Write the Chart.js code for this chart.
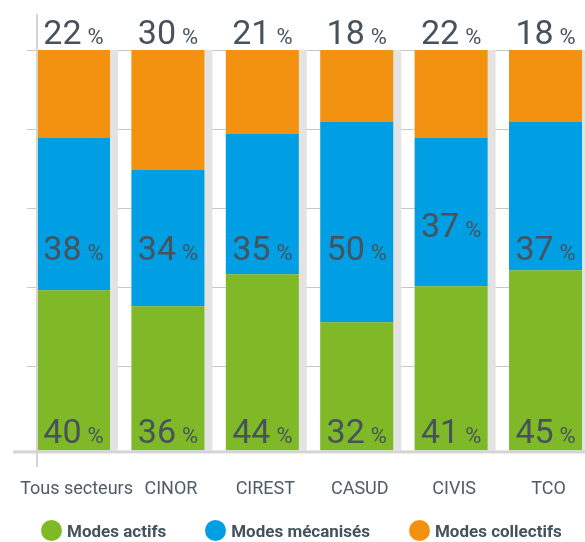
<!DOCTYPE html>
<html>
<head>
<meta charset="utf-8">
<script src="https://cdn.jsdelivr.net/npm/chart.js@4/dist/chart.umd.min.js"></script>
<style>
  html, body { margin: 0; padding: 0; background: #fff; overflow: hidden; }
  #wrap { width: 585px; height: 542px; position: relative; }
  #legend { position: absolute; left: 41px; top: 520px; display: flex; align-items: center;
            font: bold 17px Roboto, sans-serif; color: #44525c; white-space: nowrap; }
  #legend .item { display: flex; align-items: center; margin-right: 39px; }
  #legend .dot { width: 21px; height: 21px; border-radius: 50%; margin-right: 5px; }
</style>
</head>
<body>
<div id="wrap">
  <canvas id="chart" width="585" height="542"></canvas>
  <div id="legend"></div>
</div>
<script>
// parts modales par secteur (%)
const SECTEURS = ["Tous secteurs", "CINOR", "CIREST", "CASUD", "CIVIS", "TCO"];
const ACTIFS = [40, 36, 44, 32, 41, 45];
const MECANISES = [38, 34, 35, 50, 37, 37];
const COLLECTIFS = [22, 30, 21, 18, 22, 18];
const SERIES = ["Modes actifs", "Modes mécanisés", "Modes collectifs"];
const GRID_TICKS = [21, 40.75, 60.5, 80.25, 100];

const COLORS = ["#80b928", "#009fe3", "#f39210"];
const TXT = "#46535d";

const toPoints = (arr) => arr.map((v, i) => ({ x: i, y: v }));

// gray strips, axis lines and value labels
const decor = {
  id: "decor",
  beforeDatasetsDraw(chart, args, o) {
    const { ctx, scales: { y } } = chart;
    const top = y.getPixelForValue(100), bot = y.getPixelForValue(0);
    ctx.save();
    ctx.fillStyle = o.stripColor;
    for (const bar of chart.getDatasetMeta(0).data) {
      const { x, width } = bar.getProps(["x", "width"], true);
      ctx.fillRect(x - width / 2, top, width + o.stripWidth, bot - top);
    }
    ctx.restore();
  },
  afterDraw(chart, args, o) {
    const { ctx, chartArea: a, scales: { y } } = chart;
    ctx.save();
    // axes
    ctx.fillStyle = o.axisColor;
    ctx.fillRect(a.left - 1, o.axisTop, 2, o.axisBottom - o.axisTop);
    ctx.fillRect(o.baseLeft, a.bottom, chart.width - o.baseLeft, 3);
    // labels
    ctx.fillStyle = TXT;
    ctx.textBaseline = "alphabetic";
    ctx.textAlign = "left";
    chart.data.datasets.forEach((ds, di) => {
      chart.getDatasetMeta(di).data.forEach((bar, i) => {
        let base;
        if (di === 0) base = y.getPixelForValue(0) - 7;
        else if (di === 2) base = y.getPixelForValue(100) - 6;
        else base = y.getPixelForValue(o.midValue) + o.midShift[i];
        const n = String(ds.data[i].y);
        ctx.font = o.numFont;
        const wn = ctx.measureText(n).width;
        ctx.font = o.pctFont;
        const wp = ctx.measureText("%").width;
        const x0 = bar.x - (wn + o.gap + wp) / 2;
        ctx.font = o.numFont;
        ctx.fillText(n, x0, base);
        ctx.font = o.pctFont;
        ctx.fillText("%", x0 + wn + o.gap, base);
      });
    });
    ctx.restore();
  }
};

const chart = new Chart(document.getElementById("chart"), {
  type: "bar",
  data: {
    datasets: [
      { label: SERIES[0], data: toPoints(ACTIFS), backgroundColor: COLORS[0] },
      { label: SERIES[1], data: toPoints(MECANISES), backgroundColor: COLORS[1] },
      { label: SERIES[2], data: toPoints(COLLECTIFS), backgroundColor: COLORS[2] }
    ]
  },
  options: {
    responsive: false,
    animation: false,
    layout: { padding: { left: 27, top: 50, right: 0, bottom: 14 } },
    datasets: { bar: { barPercentage: 1, categoryPercentage: 0.773, borderWidth: 0 } },
    scales: {
      x: {
        type: "linear",
        stacked: true,
        offset: false,
        bounds: "data",
        min: -0.387, max: 5.418,
        grid: { display: false, offset: false, drawTicks: false },
        border: { display: false },
        afterBuildTicks: (ax) => { ax.ticks = SECTEURS.map((_, i) => ({ value: i })); },
        afterFit: (ax) => { ax.paddingLeft = 0; ax.paddingRight = 0; },
        ticks: {
          autoSkip: false, maxRotation: 0, padding: 28, labelOffset: 3,
          color: "#4e5c66",
          font: { family: "Roboto", size: 18 },
          callback: (v) => SECTEURS[v]
        }
      },
      y: {
        stacked: true,
        min: 0, max: 100,
        z: 1,
        afterBuildTicks: (ax) => { ax.ticks = GRID_TICKS.map(v => ({ value: v })); },
        ticks: { display: false },
        grid: { color: "rgba(0,0,0,0.22)", lineWidth: 1, drawTicks: true, tickLength: 10 },
        border: { display: false }
      }
    },
    plugins: {
      legend: { display: false },
      tooltip: { enabled: false },
      decor: {
        stripColor: "#e3e3e3", stripWidth: 8,
        axisColor: "#d4d4d4", axisTop: 14, axisBottom: 467, baseLeft: 13,
        midValue: 47.5, midShift: [0, 0, 0, 0, -23, 0],
        numFont: "34px Roboto", pctFont: "22px Roboto", gap: 6
      }
    }
  },
  plugins: [decor]
});

// légende html
const leg = document.getElementById("legend");
chart.data.datasets.forEach((ds) => {
  const it = document.createElement("span");
  it.className = "item";
  it.innerHTML = `<span class="dot" style="background:${ds.backgroundColor}"></span>${ds.label}`;
  leg.appendChild(it);
});
</script>
</body>
</html>
